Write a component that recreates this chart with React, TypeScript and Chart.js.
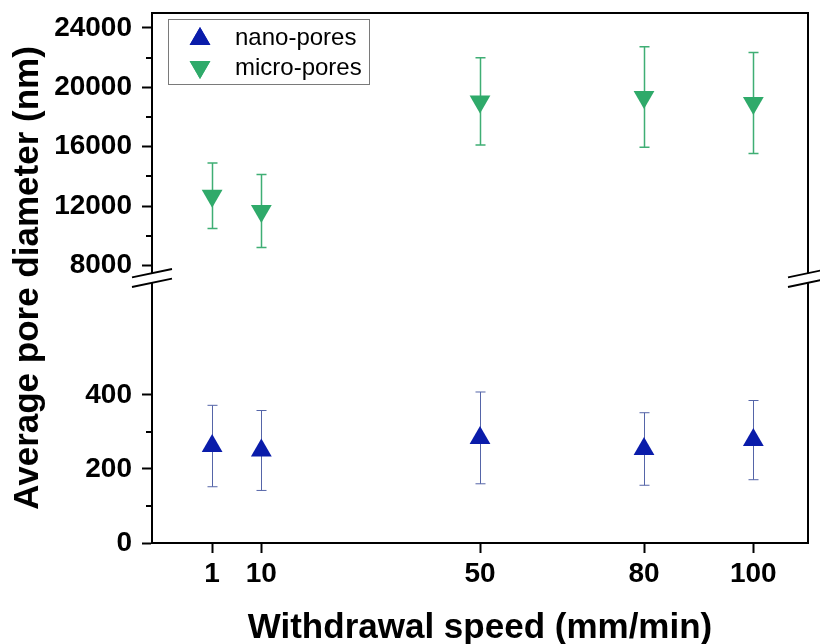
import React, { useEffect, useRef } from "react";
import { Chart, registerables } from "chart.js";
import { drawPoint } from "chart.js/helpers";

Chart.register(...registerables);

const FONT = "'Liberation Sans', Arial, Helvetica, sans-serif";

// Data
const speeds = [1, 10, 50, 80, 100];
const nanoMean = [262, 250, 284, 254, 278];
const nanoErr = [110, 108, 124, 98, 107];
const microMean = [12700, 11670, 19050, 19340, 18940];
const microErr = [2200, 2460, 2930, 3380, 3400];

// Tick lists
const xTicks = [1, 10, 50, 80, 100];
const yTopTicks = [8000, 12000, 16000, 20000, 24000];
const yTopMinor = [10000, 14000, 18000, 22000];
const yBotTicks = [0, 200, 400];
const yBotMinor = [100, 300];

const NANO_COLOR = "#0A1CAA";
const NANO_ERR = "#5565A8";
const MICRO_COLOR = "#2FAA6A";
const MICRO_ERR = "#3FAE74";

export default function App() {
  const ref = useRef<HTMLCanvasElement>(null);

  useEffect(() => {
    const canvas = ref.current!;
    const ctx = canvas.getContext("2d")!;

    const errorBars = {
      id: "errorBars",
      beforeDatasetsDraw(chart: any) {
        const c = chart.ctx;
        const xs = chart.scales.x;
        chart.data.datasets.forEach((ds: any, i: number) => {
          const meta = chart.getDatasetMeta(i);
          const ys = chart.scales[meta.yAxisID];
          c.save();
          c.strokeStyle = ds.errColor;
          c.lineWidth = ds.errWidth;
          ds.data.forEach((p: any, j: number) => {
            const e = ds.errors[j];
            const x = Math.round(xs.getPixelForValue(p.x)) + 0.5;
            const y1 = ys.getPixelForValue(p.y + e);
            const y2 = ys.getPixelForValue(p.y - e);
            c.beginPath();
            c.moveTo(x, y1);
            c.lineTo(x, y2);
            c.moveTo(x - 5, y1);
            c.lineTo(x + 5, y1);
            c.moveTo(x - 5, y2);
            c.lineTo(x + 5, y2);
            c.stroke();
          });
          c.restore();
        });
      },
    };

    const decorations = {
      id: "decorations",
      afterDraw(chart: any) {
        const c = chart.ctx;
        const a = chart.chartArea;
        const yT = chart.scales.yTop;
        const yB = chart.scales.yBot;
        c.save();
        // minor ticks
        c.strokeStyle = "#000";
        c.lineWidth = 2;
        const minor = (s: any, vals: number[]) => {
          vals.forEach((v) => {
            const y = Math.round(s.getPixelForValue(v));
            c.beginPath();
            c.moveTo(a.left - 6, y);
            c.lineTo(a.left, y);
            c.stroke();
          });
        };
        minor(yT, yTopMinor);
        minor(yB, yBotMinor);
        // top and right border
        c.beginPath();
        c.moveTo(a.left, a.top);
        c.lineTo(a.right, a.top);
        c.lineTo(a.right, a.bottom);
        c.stroke();
        // axis breaks
        const yb = yT.top < yB.top ? yT.bottom : yB.bottom;
        [a.left, a.right].forEach((x) => {
          const dx = 20;
          const dy = 4.2;
          const off = 4.8;
          c.fillStyle = "#fff";
          c.beginPath();
          c.moveTo(x - dx, yb - off + dy);
          c.lineTo(x + dx, yb - off - dy);
          c.lineTo(x + dx, yb + off - dy);
          c.lineTo(x - dx, yb + off + dy);
          c.closePath();
          c.fill();
          c.strokeStyle = "#000";
          c.lineWidth = 1.8;
          c.beginPath();
          c.moveTo(x - dx, yb - off + dy);
          c.lineTo(x + dx, yb - off - dy);
          c.moveTo(x - dx, yb + off + dy);
          c.lineTo(x + dx, yb + off - dy);
          c.stroke();
        });
        // legend
        const lx = a.left + 16;
        const ly = a.top + 6;
        c.strokeStyle = "#7a7a7a";
        c.lineWidth = 1;
        c.strokeRect(lx + 0.5, ly + 0.5, 201, 65);
        c.font = `24px ${FONT}`;
        c.fillStyle = "#000";
        c.textBaseline = "middle";
        c.textAlign = "left";
        const rows = [ly + 19, ly + 49];
        chart.data.datasets.forEach((ds: any, i: number) => {
          c.fillStyle = ds.pointBackgroundColor;
          drawPoint(
            c,
            {
              pointStyle: "triangle",
              rotation: ds.pointRotation || 0,
              radius: 12,
              borderWidth: 0,
            } as any,
            lx + 32,
            rows[i] + (i === 0 ? 1 : -1)
          );
          c.fill();
          c.fillStyle = "#000";
          c.fillText(ds.label, lx + 67, rows[i]);
        });
        // axis titles
        c.font = `bold 35px ${FONT}`;
        c.fillStyle = "#000";
        c.textAlign = "center";
        c.textBaseline = "alphabetic";
        c.fillText("Withdrawal speed (mm/min)", (a.left + a.right) / 2, 638);
        c.save();
        c.translate(38, (a.top + a.bottom) / 2);
        c.rotate(-Math.PI / 2);
        c.fillText("Average pore diameter (nm)", 0, 0);
        c.restore();
        c.restore();
      },
    };

    const zeroPad = (s: any) => {
      s.paddingTop = 0;
      s.paddingBottom = 0;
      s.paddingLeft = 0;
      s.paddingRight = 0;
    };

    const yCommon = (ticks: number[]) => ({
      type: "linear" as const,
      position: "left" as const,
      stack: "y",
      stackWeight: 1,
      border: { display: true, color: "#000", width: 2 },
      grid: {
        drawOnChartArea: false,
        drawTicks: true,
        tickLength: 10,
        tickWidth: 2,
        tickColor: "#000",
      },
      ticks: {
        color: "#000",
        padding: 10,
        font: { family: FONT, size: 28, weight: "bold" as const },
        callback: (v: any) => String(v),
      },
      afterBuildTicks: (s: any) => {
        s.ticks = ticks.map((v) => ({ value: v }));
      },
      afterFit: (s: any) => {
        s.width = 152;
        zeroPad(s);
      },
    });

    const chart = new Chart(ctx, {
      type: "scatter",
      data: {
        datasets: [
          {
            label: "nano-pores",
            yAxisID: "yBot",
            data: speeds.map((x, i) => ({ x, y: nanoMean[i] })),
            errors: nanoErr,
            errColor: NANO_ERR,
            errWidth: 1,
            pointStyle: "triangle",
            pointRadius: 12,
            pointBorderWidth: 0,
            pointBackgroundColor: NANO_COLOR,
            pointBorderColor: NANO_COLOR,
            showLine: false,
          } as any,
          {
            label: "micro-pores",
            yAxisID: "yTop",
            data: speeds.map((x, i) => ({ x, y: microMean[i] })),
            errors: microErr,
            errColor: MICRO_ERR,
            errWidth: 1.5,
            pointStyle: "triangle",
            pointRotation: 180,
            pointRadius: 12,
            pointBorderWidth: 0,
            pointBackgroundColor: MICRO_COLOR,
            pointBorderColor: MICRO_COLOR,
            showLine: false,
          } as any,
        ],
      },
      options: {
        animation: false,
        responsive: false,
        devicePixelRatio: 1,
        layout: { padding: { top: 13, right: 10, left: 0, bottom: 0 } },
        plugins: {
          legend: { display: false },
          tooltip: { enabled: false },
        },
        scales: {
          x: {
            type: "linear",
            min: -10,
            max: 110,
            border: { display: true, color: "#000", width: 2 },
            grid: {
              drawOnChartArea: false,
              drawTicks: true,
              tickLength: 10,
              tickWidth: 2,
              tickColor: "#000",
            },
            ticks: {
              color: "#000",
              padding: 4,
              autoSkip: false,
              maxRotation: 0,
              minRotation: 0,
              font: { family: FONT, size: 28, weight: "bold" },
              callback: (v: any) => String(v),
            },
            afterBuildTicks: (s: any) => {
              s.ticks = xTicks.map((v) => ({ value: v }));
            },
            afterFit: (s: any) => {
              s.height = 101;
              zeroPad(s);
            },
          },
          yBot: { ...yCommon(yBotTicks), min: 0, max: 716 },
          yTop: { ...yCommon(yTopTicks), min: 7162, max: 25000 },
        } as any,
      },
      plugins: [errorBars, decorations],
    });

    return () => chart.destroy();
  }, []);

  return (
    <div
      style={{
        position: "fixed",
        left: 0,
        top: 0,
        width: 820,
        height: 644,
        background: "#fff",
      }}
    >
      <canvas
        ref={ref}
        width={820}
        height={644}
        style={{ display: "block", width: 820, height: 644 }}
      />
    </div>
  );
}
